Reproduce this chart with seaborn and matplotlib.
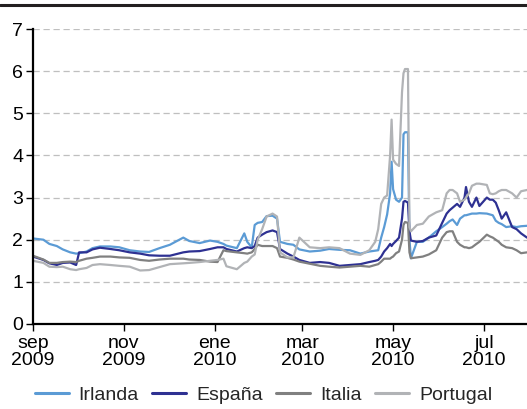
import matplotlib
matplotlib.use("Agg")
import matplotlib.pyplot as plt
import matplotlib.dates as mdates
from matplotlib.lines import Line2D
import seaborn as sns
import pandas as pd

dates = ["2009-09-01","2009-09-08","2009-09-12","2009-09-17","2009-09-21","2009-09-26","2009-09-30",
         "2009-10-02","2009-10-07","2009-10-11","2009-10-16","2009-10-23","2009-10-29","2009-11-05",
         "2009-11-12","2009-11-18","2009-11-25","2009-12-02","2009-12-11","2009-12-15","2009-12-22",
         "2009-12-29","2010-01-03","2010-01-07","2010-01-09","2010-01-16","2010-01-21","2010-01-23",
         "2010-01-26","2010-01-28","2010-01-30","2010-02-02","2010-02-05","2010-02-09","2010-02-12",
         "2010-02-14","2010-02-19","2010-02-23","2010-02-27","2010-03-06","2010-03-13","2010-03-19",
         "2010-03-26","2010-04-02","2010-04-09","2010-04-15","2010-04-19","2010-04-21","2010-04-23",
         "2010-04-25","2010-04-27","2010-04-29","2010-04-30","2010-05-01","2010-05-03","2010-05-05",
         "2010-05-07","2010-05-08","2010-05-09","2010-05-11","2010-05-12","2010-05-13","2010-05-17",
         "2010-05-21","2010-05-25","2010-05-30","2010-06-03","2010-06-06","2010-06-08","2010-06-10",
         "2010-06-13","2010-06-15","2010-06-18","2010-06-19","2010-06-21","2010-06-23","2010-06-26",
         "2010-06-28","2010-07-03","2010-07-05","2010-07-07","2010-07-09","2010-07-11","2010-07-13",
         "2010-07-16","2010-07-20","2010-07-23","2010-07-26","2010-07-30"]

irlanda = [2.03,2.00,1.90,1.85,1.77,1.70,1.67,1.68,1.72,1.80,1.84,1.84,1.82,1.75,1.72,1.71,1.80,1.88,
           2.05,1.97,1.92,1.98,1.95,1.90,1.86,1.80,2.15,1.95,1.82,2.35,2.40,2.42,2.56,2.57,2.50,1.95,
           1.90,1.88,1.77,1.72,1.74,1.78,1.76,1.75,1.67,1.72,1.74,1.75,2.05,2.30,2.60,3.10,3.85,3.20,
           2.95,2.90,3.00,4.50,4.55,4.55,2.00,1.56,1.95,1.95,2.05,2.20,2.30,2.38,2.44,2.48,2.35,2.50,
           2.58,2.58,2.60,2.62,2.62,2.63,2.62,2.60,2.58,2.45,2.40,2.37,2.30,2.32,2.30,2.32,2.33]
espana = [1.60,1.52,1.44,1.40,1.45,1.46,1.40,1.70,1.70,1.77,1.81,1.78,1.75,1.70,1.67,1.63,1.62,1.62,
          1.70,1.72,1.73,1.78,1.82,1.82,1.78,1.72,1.80,1.82,1.80,1.85,2.05,2.12,2.18,2.22,2.18,1.78,
          1.67,1.60,1.52,1.45,1.47,1.45,1.38,1.40,1.42,1.47,1.50,1.52,1.60,1.72,1.80,1.90,1.85,1.90,
          1.97,2.05,2.50,2.90,2.92,2.88,2.20,1.98,1.95,1.97,2.05,2.10,2.40,2.62,2.70,2.76,2.85,2.78,
          3.00,3.25,2.90,2.78,3.00,2.80,3.00,2.95,2.95,2.88,2.70,2.50,2.65,2.30,2.25,2.15,2.05]
italia = [1.62,1.53,1.45,1.45,1.47,1.48,1.47,1.50,1.55,1.57,1.60,1.60,1.58,1.57,1.52,1.50,1.53,1.55,
          1.55,1.53,1.52,1.48,1.47,1.75,1.73,1.70,1.68,1.67,1.70,1.78,1.88,1.85,1.85,1.85,1.80,1.60,
          1.57,1.53,1.48,1.43,1.38,1.36,1.34,1.36,1.38,1.36,1.40,1.42,1.48,1.55,1.55,1.55,1.58,1.60,
          1.68,1.72,2.00,2.35,2.42,2.40,1.70,1.56,1.58,1.60,1.65,1.75,2.05,2.18,2.20,2.20,1.95,1.88,
          1.82,1.82,1.80,1.82,1.90,1.95,2.12,2.08,2.05,2.00,1.95,1.88,1.82,1.80,1.75,1.68,1.70]
portugal = [1.50,1.45,1.36,1.35,1.36,1.30,1.28,1.30,1.33,1.40,1.42,1.40,1.38,1.36,1.27,1.28,1.35,1.42,
            1.44,1.45,1.47,1.50,1.52,1.55,1.37,1.30,1.45,1.48,1.60,1.65,2.00,2.25,2.55,2.62,2.55,1.70,
            1.58,1.58,2.05,1.82,1.80,1.82,1.80,1.67,1.64,1.75,1.95,2.25,2.85,3.00,3.05,4.00,4.85,3.90,
            3.80,3.75,5.50,5.95,6.05,6.05,2.30,2.20,2.35,2.38,2.55,2.65,2.70,3.10,3.18,3.18,3.10,2.90,
            2.95,3.00,3.10,3.28,3.33,3.33,3.30,3.10,3.08,3.10,3.15,3.18,3.18,3.10,3.00,3.15,3.18]

series_names = ["Irlanda", "España", "Italia", "Portugal"]
colors = ["#5b9bd5", "#2e3192", "#808080", "#b1b3b6"]
tick_dates = ["2009-09-01", "2009-11-01", "2010-01-01", "2010-03-01", "2010-05-01", "2010-07-01"]
tick_labels = ["sep\n2009", "nov\n2009", "ene\n2010", "mar\n2010", "may\n2010", "jul\n2010"]

frames = []
for name, vals in zip(series_names, [irlanda, espana, italia, portugal]):
    frames.append(pd.DataFrame({"fecha": pd.to_datetime(dates), "valor": vals, "serie": name}))
df = pd.concat(frames, ignore_index=True)

sns.set_theme(style="white")
plt.rcParams["font.family"] = ["Liberation Sans", "DejaVu Sans"]

fig = plt.figure(figsize=(5.27, 4.09), dpi=100)
ax = fig.add_axes([33/527, 85/409, 1 - 33/527, 295/409])

sns.lineplot(data=df, x="fecha", y="valor", hue="serie", hue_order=series_names,
             palette=colors, linewidth=1.6, ax=ax, legend=False)

ax.set_xlim(pd.Timestamp("2009-09-01"), pd.Timestamp("2010-07-30"))
ax.set_ylim(0, 7)
ax.set_yticks(range(0, 8))
ax.set_xticks(pd.to_datetime(tick_dates))
ax.set_xticklabels(tick_labels)
ax.set_xlabel("")
ax.set_ylabel("")

ax.yaxis.grid(True, color="#bfbfbf", linestyle=(0, (5, 3)), linewidth=0.9)
ax.xaxis.grid(False)
ax.set_axisbelow(True)
for s in ["top", "right"]:
    ax.spines[s].set_visible(False)
for s in ["left", "bottom"]:
    ax.spines[s].set_color("black")
    ax.spines[s].set_linewidth(1.6)
ax.tick_params(axis="both", which="major", direction="out", length=5, width=1,
               color="black", labelsize=14, labelcolor="black", pad=2,
               bottom=True, left=True)
ax.tick_params(axis="x", pad=3)
for lbl in ax.get_xticklabels():
    lbl.set_linespacing(1.0)

# top rule line
fig.add_artist(Line2D([0, 1], [1 - 5/409, 1 - 5/409], color="#231f20", linewidth=2.2,
                      transform=fig.transFigure))

handles = [Line2D([0], [0], color=c, linewidth=2.2) for c in colors]
fig.legend(handles, series_names, loc="center", bbox_to_anchor=(0.5, 0.034), ncol=4,
           frameon=False, fontsize=14, handlelength=1.75, handletextpad=0.5,
           columnspacing=0.7, borderpad=0, borderaxespad=0)

fig.savefig("out.png", dpi=100)
